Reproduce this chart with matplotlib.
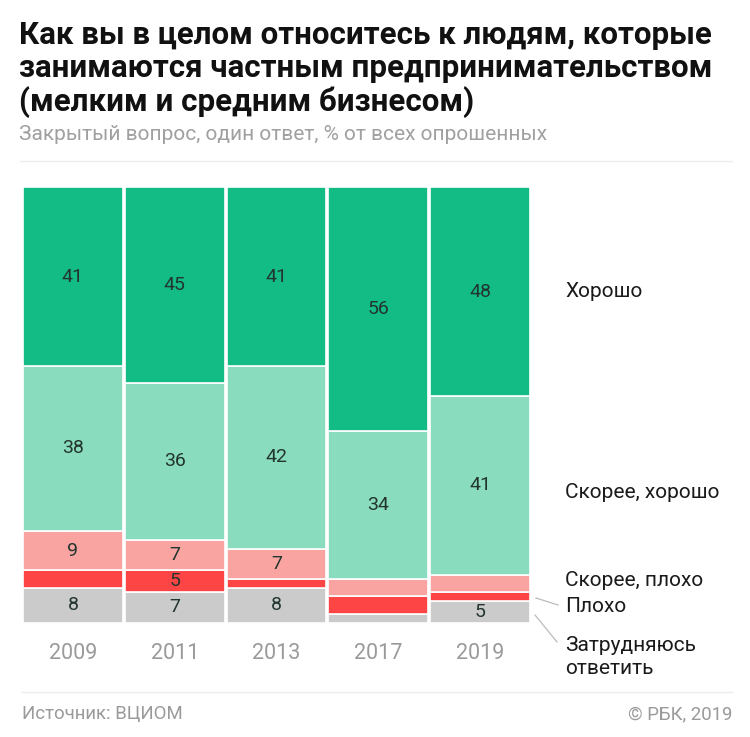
import matplotlib
matplotlib.use("Agg")
import matplotlib.pyplot as plt
import numpy as np

plt.rcParams['font.family'] = ['Roboto', 'DejaVu Sans']

years = ["2009", "2011", "2013", "2017", "2019"]
categories = ["Затрудняюсь\nответить", "Плохо", "Скорее, плохо", "Скорее, хорошо", "Хорошо"]
hard_to_say = [8, 7, 8, 2, 5]
bad = [4, 5, 2, 4, 2]
rather_bad = [9, 7, 7, 4, 4]
rather_good = [38, 36, 42, 34, 41]
good = [41, 45, 41, 56, 48]
series = [hard_to_say, bad, rather_bad, rather_good, good]
colors = ["#cbcbcb", "#fe4545", "#f9a4a1", "#8adcbf", "#13bb85"]

fig = plt.figure(figsize=(7.5, 7.37), dpi=100)
W, H = 750, 737

def fx(px):
    return px / W

def fy(py):
    return 1 - py / H

ax = fig.add_axes([fx(23), fy(622.5), (530 - 23) / W, (622.5 - 187.3) / H])
x = np.arange(len(years))
bottom = np.zeros(len(years))
for vals, col in zip(series, colors):
    v = np.array(vals, dtype=float)
    ax.bar(x, v, bottom=bottom, width=0.98, color=col, edgecolor="white", linewidth=1.2)
    for xi, (b, val) in enumerate(zip(bottom, v)):
        if val >= 5:
            ax.text(xi, b + val / 2, f"{int(val)}", ha="center", va="center",
                    fontsize=14, color="#22352e")
    bottom += v

ax.set_xlim(-0.49, 4.49)
ax.set_ylim(0, bottom.max())
ax.axis("off")

for xi, y in enumerate(years):
    ax.text(xi, -7.2, y, ha="center", va="center", fontsize=15.5, color="#9a9a9a")

last = [s[-1] for s in series]
cum = np.cumsum([0] + last)
centers = [(cum[i] + cum[i + 1]) / 2 for i in range(len(last))]

def data_to_fig_y(yv):
    disp = ax.transData.transform((0, yv))
    return fig.transFigure.inverted().transform(disp)[1]

lab_x = fx(565)
lab_kw = dict(fontsize=15, color="#1a1a1a", va="center", ha="left")
fig.text(lab_x, data_to_fig_y(centers[4]), "Хорошо", **lab_kw)
fig.text(lab_x, fy(492), "Скорее, хорошо", **lab_kw)
fig.text(lab_x, fy(581), "Скорее, плохо", **lab_kw)
fig.text(lab_x, fy(606), "Плохо", **lab_kw)
fig.text(lab_x, fy(657), "Затрудняюсь\nответить", linespacing=1.3, **lab_kw)

# leader lines
fig.add_artist(plt.Line2D([fx(536), fx(558)], [fy(598), fy(605)], color="#bbbbbb", lw=0.9))
fig.add_artist(plt.Line2D([fx(535), fx(557)], [fy(615), fy(642)], color="#bbbbbb", lw=0.9))

# title
title = "Как вы в целом относитесь к людям, которые\nзанимаются частным предпринимательством\n(мелким и средним бизнесом)"
fig.text(fx(19), fy(69), title, fontsize=22.5, fontweight="bold", color="#111111",
         va="center", ha="left", linespacing=1.12)
fig.text(fx(19), fy(134), "Закрытый вопрос, один ответ, % от всех опрошенных",
         fontsize=15, color="#a0a0a0", va="center", ha="left")

# rules
fig.add_artist(plt.Line2D([fx(20), fx(732)], [fy(161), fy(161)], color="#ececec", lw=1))
fig.add_artist(plt.Line2D([fx(22), fx(732)], [fy(692), fy(692)], color="#ececec", lw=1))

# footer
fig.text(fx(22), fy(714), "Источник: ВЦИОМ", fontsize=13.4, color="#9a9a9a", va="center", ha="left")
fig.text(fx(732), fy(714), "© РБК, 2019", fontsize=13.4, color="#9a9a9a", va="center", ha="right")

fig.savefig("out.png", dpi=100, facecolor="white")
